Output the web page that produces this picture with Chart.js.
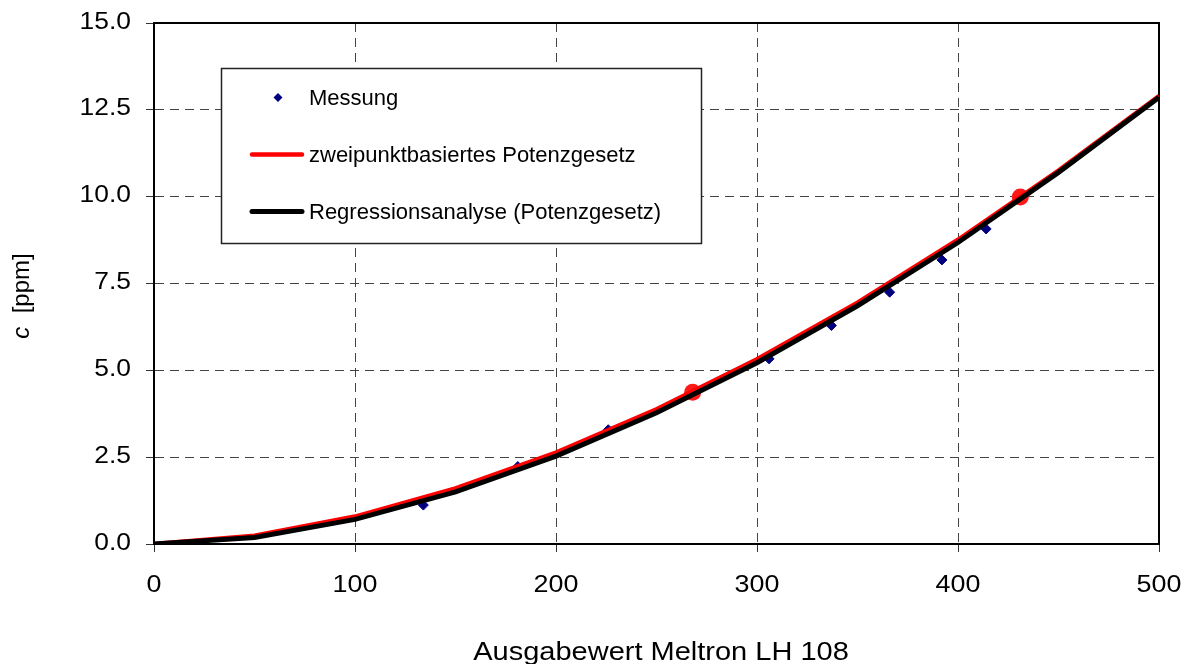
<!DOCTYPE html>
<html lang="de">
<head>
<meta charset="UTF-8">
<title>Kalibrierung Meltron LH 108</title>
<script src="https://cdn.jsdelivr.net/npm/chart.js"></script>
<style>
  html, body { margin: 0; padding: 0; background: #fff; }
</style>
</head>
<body>
<canvas id="Chart" width="1192" height="664"></canvas>
<script>
// Messpunkte: Ausgabewert und Konzentration c [ppm]
const messX = [134, 181, 226, 306, 337, 366, 392, 414];
const messC = [1.12, 2.23, 3.29, 5.33, 6.29, 7.25, 8.18, 9.07];

// die zwei Stuetzpunkte fuer das zweipunktbasierte Potenzgesetz
const stuetzX = [268, 431];
const stuetzC = [4.37, 9.99];

const kurveX = [0, 50, 100, 150, 200, 250, 300, 350, 400, 450, 500];
const zweipunktC = [0, 0.24, 0.79, 1.60, 2.63, 3.88, 5.32, 6.95, 8.76, 10.75, 12.90];
const regressionC = [0, 0.19, 0.71, 1.50, 2.53, 3.78, 5.22, 6.86, 8.68, 10.70, 12.86];

// Achsenbeschriftung
const xTickLabels = ['0', '100', '200', '300', '400', '500'];
const yTickLabels = ['0.0', '2.5', '5.0', '7.5', '10.0', '12.5', '15.0'];
const legendLabels = ['Messung', 'zweipunktbasiertes Potenzgesetz', 'Regressionsanalyse (Potenzgesetz)'];

const FONT = '"Liberation Sans", Arial, sans-serif';

function toPoints(xs, ys) {
    return xs.map((x, i) => ({ x: x, y: ys[i] }));
}

// Text mit horizontaler Streckung zeichnen
function drawText(ctx, text, x, y, sx, align) {
    ctx.save();
    ctx.translate(x, y);
    ctx.scale(sx, 1);
    ctx.textAlign = align;
    ctx.fillText(text, 0, 0);
    ctx.restore();
}

const framePlugin = {
    id: 'frame',
    beforeDatasetsDraw(chart) {
        const { ctx, chartArea: a } = chart;
        ctx.save();
        ctx.strokeStyle = '#000';
        ctx.lineWidth = 2;
        ctx.beginPath();
        ctx.moveTo(a.left, a.top);
        ctx.lineTo(a.right, a.top);
        ctx.lineTo(a.right, a.bottom);
        ctx.stroke();
        ctx.restore();
    }
};

const textPlugin = {
    id: 'texte',
    afterDraw(chart) {
        const { ctx, scales: { x, y } } = chart;
        const ds = chart.data.datasets;
        ctx.save();
        ctx.fillStyle = '#000';
        ctx.textBaseline = 'middle';

        // Tick-Beschriftungen
        ctx.font = '24px ' + FONT;
        y.ticks.forEach((t, i) => {
            drawText(ctx, yTickLabels[i], 131, y.getPixelForValue(t.value) - 1, 1.1, 'right');
        });
        x.ticks.forEach((t, i) => {
            drawText(ctx, xTickLabels[i], x.getPixelForValue(t.value), 585, 1.12, 'center');
        });

        // Achsentitel
        ctx.font = '25px ' + FONT;
        drawText(ctx, 'Ausgabewert Meltron LH 108', 661, 653, 1.16, 'center');

        ctx.save();
        ctx.translate(22, 296);
        ctx.rotate(-Math.PI / 2);
        ctx.font = 'italic 24px ' + FONT;
        const wc = ctx.measureText('c').width;
        ctx.font = '24px ' + FONT;
        const wr = ctx.measureText('  [ppm]').width;
        let sx = -(wc + wr) / 2;
        ctx.textAlign = 'left';
        ctx.font = 'italic 24px ' + FONT;
        ctx.fillText('c', sx, 0);
        ctx.font = '24px ' + FONT;
        ctx.fillText('  [ppm]', sx + wc, 0);
        ctx.restore();

        // Legende
        ctx.fillStyle = '#fff';
        ctx.fillRect(221.5, 68.5, 480, 175);
        ctx.strokeStyle = '#222';
        ctx.lineWidth = 1.5;
        ctx.strokeRect(221.5, 68.5, 480, 175);

        const rows = [97.5, 154.5, 211.5];
        // Messung: Raute
        const m = ds[3];
        ctx.fillStyle = m.backgroundColor;
        ctx.beginPath();
        ctx.moveTo(278, rows[0] - 4.5);
        ctx.lineTo(282.5, rows[0]);
        ctx.lineTo(278, rows[0] + 4.5);
        ctx.lineTo(273.5, rows[0]);
        ctx.closePath();
        ctx.fill();
        // Linien
        [ds[1], ds[0]].forEach((d, i) => {
            ctx.strokeStyle = d.borderColor;
            ctx.lineWidth = d.borderWidth;
            ctx.lineCap = 'round';
            ctx.beginPath();
            ctx.moveTo(252, rows[i + 1]);
            ctx.lineTo(302, rows[i + 1]);
            ctx.stroke();
        });
        ctx.fillStyle = '#000';
        ctx.font = '22px ' + FONT;
        legendLabels.forEach((lbl, i) => {
            drawText(ctx, lbl, 309, rows[i] + 1, 1.0, 'left');
        });
        ctx.restore();
    }
};

const ctx = document.getElementById('Chart').getContext('2d');
const chart = new Chart(ctx, {
    type: 'scatter',
    data: {
        datasets: [
            {
                label: legendLabels[2],
                data: toPoints(kurveX, regressionC),
                showLine: true,
                borderColor: '#000000',
                borderWidth: 5,
                pointRadius: 0,
                tension: 0
            },
            {
                label: legendLabels[1],
                data: toPoints(kurveX, zweipunktC),
                showLine: true,
                borderColor: '#ff0000',
                borderWidth: 4.5,
                pointRadius: 0,
                tension: 0
            },
            {
                label: 'Stuetzpunkte',
                data: toPoints(stuetzX, stuetzC),
                showLine: false,
                pointStyle: 'circle',
                pointRadius: 8.5,
                backgroundColor: '#ff1a1a',
                borderColor: '#ff1a1a',
                borderWidth: 0
            },
            {
                label: legendLabels[0],
                data: toPoints(messX, messC),
                showLine: false,
                pointStyle: 'rectRot',
                pointRadius: 5,
                backgroundColor: '#000080',
                borderColor: '#000080',
                borderWidth: 1
            }
        ]
    },
    options: {
        responsive: false,
        animation: false,
        devicePixelRatio: 1,
        layout: { padding: { top: 23, right: 33, left: 0, bottom: 0 } },
        plugins: {
            legend: { display: false },
            tooltip: { enabled: false }
        },
        scales: {
            x: {
                type: 'linear',
                min: 0,
                max: 500,
                ticks: { stepSize: 100, display: false },
                grid: { color: '#444', lineWidth: 1, tickLength: 8, tickColor: '#333' },
                border: { color: '#000', width: 2, dash: [9, 6] },
                afterFit: s => { s.height = 120; }
            },
            y: {
                type: 'linear',
                min: 0,
                max: 15,
                ticks: { stepSize: 2.5, display: false },
                grid: { color: '#444', lineWidth: 1, tickLength: 8, tickColor: '#333' },
                border: { color: '#000', width: 2, dash: [9, 6] },
                afterFit: s => { s.width = 154; }
            }
        }
    },
    plugins: [framePlugin, textPlugin]
});
</script>
</body>
</html>
